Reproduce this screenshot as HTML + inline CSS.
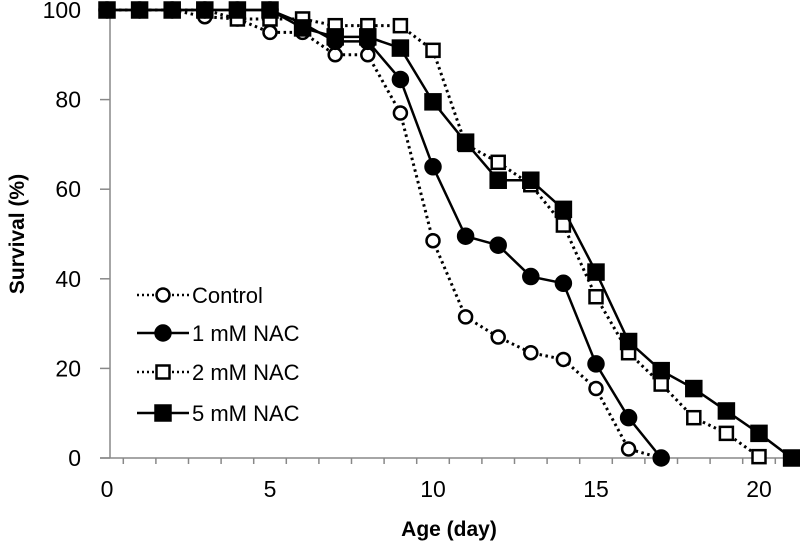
<!DOCTYPE html>
<html><head><meta charset="utf-8"><style>
body{margin:0;background:#fff}
svg text{font-family:"Liberation Sans",sans-serif;fill:#000}
</style></head><body>
<svg id="chart" width="800" height="550" xmlns="http://www.w3.org/2000/svg">
<g id="axes"></g><g id="series"></g><g id="legend"></g>
<text x="449" y="536" text-anchor="middle" font-size="21" font-weight="bold">Age (day)</text>
<text transform="translate(24,234) rotate(-90)" text-anchor="middle" font-size="21" font-weight="bold">Survival (%)</text>
</svg>
<script>
const days=[0,1,2,3,4,5,6,7,8,9,10,11,12,13,14,15,16,17,18,19,20,21];
const control=[100,100,100,98.5,98,95,95,90,90,77,48.5,31.5,27,23.5,22,15.5,2,0];
const nac1=[100,100,100,100,100,100,97,93,93,84.5,65,49.5,47.5,40.5,39,21,9,0];
const nac2=[100,100,100,100,98,98,98,96.5,96.5,96.5,91,70,66,61,52,36,23.5,16.5,9,5.5,0.3];
const nac5=[100,100,100,100,100,100,96,94,94,91.5,79.5,70.5,62,62,55.5,41.5,26,19.5,15.5,10.5,5.5,0];
const yTicks=[0,20,40,60,80,100];
const xLabels=[0,5,10,15,20];
const NS="http://www.w3.org/2000/svg";
const X=d=>107+d*32.6, Y=v=>458-v*4.48;
function mk(t,a,p){const e=document.createElementNS(NS,t);for(const k in a)e.setAttribute(k,a[k]);p.appendChild(e);return e;}
const ax=document.getElementById('axes');
let e=mk('line',{x1:110,y1:10,x2:110,y2:458,stroke:'#888','stroke-width':1.5},ax);


e=mk('line',{x1:100,y1:458,x2:795,y2:458,stroke:'#888','stroke-width':1.5},ax);


yTicks.forEach(v=>{
 const t=mk('line',{x1:100,y1:Y(v),x2:110,y2:Y(v),stroke:'#888','stroke-width':1.5},ax);
 
 
 const l=mk('text',{x:81,y:Y(v)+8,'text-anchor':'end','font-size':23},ax);l.textContent=v;
 
 
});
days.slice(0,21).forEach(d=>{
 const t=mk('line',{x1:X(d+0.5),y1:458,x2:X(d+0.5),y2:464,stroke:'#888','stroke-width':1.5},ax);
 
 
});
xLabels.forEach(d=>{
 const l=mk('text',{x:X(d),y:497,'text-anchor':'middle','font-size':23},ax);l.textContent=d;
 
 
});
const sg=document.getElementById('series');
function marker(g,x,y,type){
 let m;
 if(type==='circle'||type==='dot') m=mk('circle',{cx:x,cy:y,r:type==='dot'?7.5:6.5,fill:type==='dot'?'#000':'#fff',stroke:'#000','stroke-width':2.5},g);
 else {const s=type==='fsq'?15:13;m=mk('rect',{x:x-s/2,y:y-s/2,width:s,height:s,fill:type==='fsq'?'#000':'#fff',stroke:'#000','stroke-width':2.5},g);}
 return m;
}
const defs=[['control',control,'circle',true],['nac-1mm',nac1,'dot',false],['nac-2mm',nac2,'sq',true],['nac-5mm',nac5,'fsq',false]];
defs.forEach(([name,vals,type,dotted])=>{
 const g=mk('g',{},sg);
 
 
 const pts=vals.map((v,i)=>X(days[i])+','+Y(v)).join(' ');
 const pl=mk('polyline',{points:pts,fill:'none',stroke:'#000','stroke-width':dotted?3:2.5,'stroke-dasharray':dotted?'2.5,3.5':'none'},g);
 
 
 vals.forEach((v,i)=>{const m=marker(g,X(days[i]),Y(v),type);
  
  });
});
const lg=document.getElementById('legend');
const names=['Control','1 mM NAC','2 mM NAC','5 mM NAC'];
const ly=[295,333,372,413];
defs.forEach(([name,vals,type,dotted],i)=>{
 const g=mk('g',{},lg);
 
 
 mk('line',{x1:137,y1:ly[i],x2:189,y2:ly[i],stroke:'#000','stroke-width':2.5,'stroke-dasharray':dotted?'2,3':'none'},g);
 marker(g,163,ly[i],type);
 const t=mk('text',{x:192,y:ly[i]+8,'font-size':22},g);t.textContent=names[i];
});
</script>
</body></html>
